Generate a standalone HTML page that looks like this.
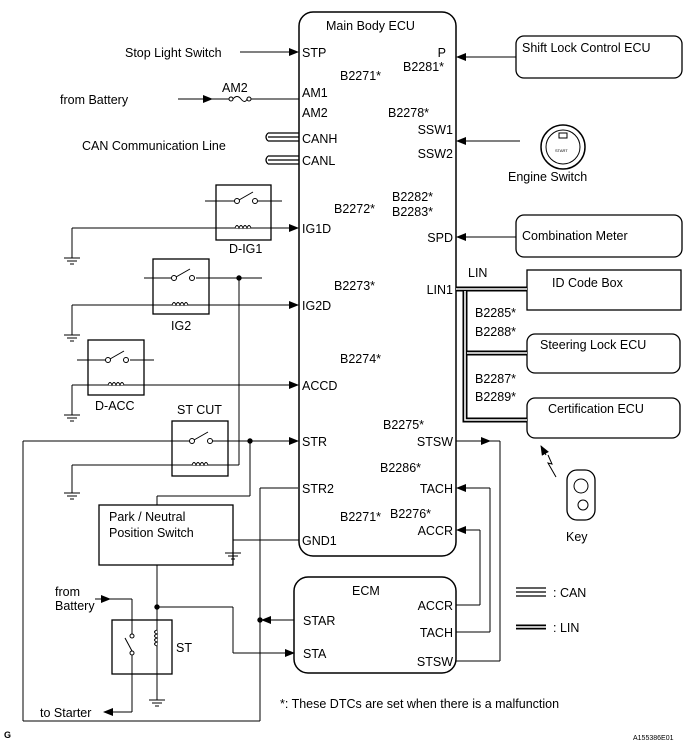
<!DOCTYPE html>
<html><head><style>
html,body{margin:0;padding:0;background:#fff}
svg{display:block}
text{font-family:"Liberation Sans",Arial,sans-serif;font-size:12.5px;fill:#000}
</style></head><body>
<svg width="689" height="747" viewBox="0 0 689 747" xmlns="http://www.w3.org/2000/svg">
<defs>
<marker id="a" markerWidth="10" markerHeight="8" refX="9" refY="4" orient="auto" markerUnits="userSpaceOnUse"><path d="M0,0 L10,4 L0,8z" fill="#000"/></marker>
<g id="gnd"><line x1="-8" y1="0" x2="8" y2="0" stroke="#000"/><line x1="-5" y1="3" x2="5" y2="3" stroke="#000"/><line x1="-2" y1="6" x2="2" y2="6" stroke="#000"/></g>
<g id="coil"><path d="M-8,0 q2,-5 4,0 q2,-5 4,0 q2,-5 4,0 q2,-5 4,0" fill="#fff" stroke="#000"/></g>
<g id="sw"><circle cx="-8" cy="0" r="2.5" fill="#fff" stroke="#000"/><circle cx="10" cy="0" r="2.5" fill="#fff" stroke="#000"/><line x1="-6" y1="-1" x2="8" y2="-9" stroke="#000"/></g>
</defs>
<g fill="none" stroke="#000" stroke-width="1">
<rect x="299" y="12" width="157" height="544" rx="14" stroke-width="1.5"/>
<rect x="294" y="577" width="162" height="96" rx="14" stroke-width="1.5"/>
<rect x="516" y="36" width="166" height="42" rx="8" stroke-width="1.3"/>
<rect x="516" y="215" width="166" height="42" rx="8" stroke-width="1.3"/>
<rect x="527" y="270" width="154" height="40" stroke-width="1.3"/>
<rect x="527" y="334" width="153" height="39" rx="8" stroke-width="1.3"/>
<rect x="527" y="398" width="153" height="40" rx="8" stroke-width="1.3"/>
<line x1="516" y1="57" x2="457" y2="57" marker-end="url(#a)"/>
<line x1="516" y1="237" x2="457" y2="237" marker-end="url(#a)"/>
<line x1="520" y1="141" x2="457" y2="141" marker-end="url(#a)"/>
<circle cx="563" cy="147" r="22" stroke-width="1.5"/>
<circle cx="563" cy="147" r="17"/>
<rect x="559" y="133" width="8" height="5"/>
<line x1="240" y1="52" x2="298" y2="52" marker-end="url(#a)"/>
<line x1="178" y1="99" x2="212" y2="99" marker-end="url(#a)"/>
<line x1="212" y1="99" x2="229" y2="99"/>
<circle cx="231" cy="99" r="2" fill="#fff"/><circle cx="249" cy="99" r="2" fill="#fff"/>
<path d="M233,99 q4,-5 8,0 q4,5 6,0"/>
<line x1="251" y1="99" x2="299" y2="99"/>
<g stroke-width="1.2"><line x1="268" y1="133" x2="299" y2="133"/><line x1="268" y1="137" x2="299" y2="137"/><line x1="268" y1="141" x2="299" y2="141"/>
<line x1="268" y1="156" x2="299" y2="156"/><line x1="268" y1="160" x2="299" y2="160"/><line x1="268" y1="164" x2="299" y2="164"/>
<path d="M268,133 q-4,4 0,8"/><path d="M268,156 q-4,4 0,8"/></g>
<rect x="216" y="185" width="55" height="55" stroke-width="1.3"/>
<line x1="205" y1="201" x2="236" y2="201"/><line x1="258" y1="201" x2="282" y2="201"/>
<use href="#sw" x="245" y="201"/>
<line x1="72" y1="228" x2="298" y2="228" marker-end="url(#a)"/>
<use href="#coil" x="243" y="228"/>
<line x1="72" y1="228" x2="72" y2="258"/><use href="#gnd" x="72" y="258"/>
<rect x="153" y="259" width="56" height="55" stroke-width="1.3"/>
<line x1="144" y1="278" x2="174" y2="278"/><line x1="196" y1="278" x2="262" y2="278"/>
<use href="#sw" x="182" y="278"/>
<circle cx="239" cy="278" r="2.2" fill="#000"/>
<line x1="72" y1="305" x2="298" y2="305" marker-end="url(#a)"/>
<use href="#coil" x="180" y="305"/>
<line x1="72" y1="305" x2="72" y2="335"/><use href="#gnd" x="72" y="335"/>
<rect x="88" y="340" width="56" height="55" stroke-width="1.3"/>
<line x1="77" y1="360" x2="108" y2="360"/><line x1="130" y1="360" x2="154" y2="360"/>
<use href="#sw" x="116" y="360"/>
<line x1="72" y1="385" x2="298" y2="385" marker-end="url(#a)"/>
<use href="#coil" x="116" y="385"/>
<line x1="72" y1="385" x2="72" y2="415"/><use href="#gnd" x="72" y="415"/>
<rect x="172" y="421" width="56" height="55" stroke-width="1.3"/>
<line x1="23" y1="441" x2="192" y2="441"/><line x1="211" y1="441" x2="298" y2="441" marker-end="url(#a)"/>
<use href="#sw" x="200" y="441"/>
<circle cx="250" cy="441" r="2.2" fill="#000"/>
<line x1="72" y1="465" x2="239" y2="465"/><line x1="239" y1="465" x2="239" y2="278"/>
<use href="#coil" x="200" y="465"/>
<line x1="72" y1="465" x2="72" y2="493"/><use href="#gnd" x="72" y="493"/>
<line x1="23" y1="441" x2="23" y2="721"/><line x1="23" y1="721" x2="260" y2="721"/>
<line x1="260" y1="721" x2="260" y2="488"/><line x1="260" y1="488" x2="298" y2="488"/>
<rect x="99" y="505" width="134" height="60" stroke-width="1.3"/>
<line x1="157" y1="505" x2="157" y2="496"/><line x1="157" y1="496" x2="250" y2="496"/><line x1="250" y1="496" x2="250" y2="441"/>
<line x1="157" y1="565" x2="157" y2="700"/><use href="#gnd" x="157" y="700"/>
<circle cx="157" cy="607" r="2.2" fill="#000"/>
<line x1="157" y1="607" x2="233" y2="607"/><line x1="233" y1="607" x2="233" y2="653"/><line x1="233" y1="653" x2="294" y2="653" marker-end="url(#a)"/>
<line x1="299" y1="540" x2="233" y2="540"/><line x1="233" y1="540" x2="233" y2="553"/><use href="#gnd" x="233" y="553"/>
<line x1="294" y1="620" x2="262" y2="620" marker-end="url(#a)"/><circle cx="260" cy="620" r="2.2" fill="#000"/>
<rect x="112" y="620" width="60" height="54" stroke-width="1.3"/>
<line x1="95" y1="599" x2="110" y2="599" marker-end="url(#a)"/>
<line x1="108" y1="599" x2="132" y2="599"/>
<line x1="132" y1="599" x2="132" y2="635"/>
<circle cx="132" cy="636" r="2" fill="#fff"/><circle cx="132" cy="653" r="2" fill="#fff"/>
<line x1="132" y1="651" x2="125" y2="638"/>
<line x1="132" y1="655" x2="132" y2="712"/><line x1="132" y1="712" x2="104" y2="712" marker-end="url(#a)"/>
<path d="M157,630 q-5,2 0,4 q-5,2 0,4 q-5,2 0,4 q-5,2 0,4" fill="#fff"/>
<line x1="456" y1="605" x2="480" y2="605"/><line x1="480" y1="605" x2="480" y2="530"/><line x1="480" y1="530" x2="457" y2="530" marker-end="url(#a)"/>
<line x1="456" y1="632" x2="490" y2="632"/><line x1="490" y1="632" x2="490" y2="488"/><line x1="490" y1="488" x2="457" y2="488" marker-end="url(#a)"/>
<line x1="456" y1="661" x2="500" y2="661"/><line x1="500" y1="661" x2="500" y2="441"/><line x1="456" y1="441" x2="490" y2="441" marker-end="url(#a)"/><line x1="488" y1="441" x2="500" y2="441"/>
<g stroke-width="5"><path d="M456,289 H527"/><path d="M465,289 V420 H527"/><path d="M465,353 H527"/></g>
<g stroke="#fff" stroke-width="1.6"><path d="M456,289 H527"/><path d="M465,291 V420 H527"/><path d="M467,353 H527"/></g>
<path d="M556,477 l-8,-14 l4,1 l-4,-9 " />
<line x1="546" y1="455" x2="541" y2="446" marker-end="url(#a)"/>
<rect x="567" y="470" width="28" height="50" rx="10" stroke-width="1.3"/>
<circle cx="581" cy="486" r="7"/><circle cx="583" cy="505" r="5"/>
<g stroke-width="1.2"><line x1="516" y1="588" x2="546" y2="588"/><line x1="516" y1="592" x2="546" y2="592"/><line x1="516" y1="596" x2="546" y2="596"/></g>
<line x1="516" y1="627" x2="546" y2="627" stroke-width="5"/><line x1="516" y1="627" x2="546" y2="627" stroke="#fff" stroke-width="1.6"/>
</g>
<g>
<text x="326" y="30">Main Body ECU</text>
<text x="125" y="57">Stop Light Switch</text>
<text x="60" y="104">from Battery</text>
<text x="222" y="92">AM2</text>
<text x="82" y="150">CAN Communication Line</text>
<text x="302" y="57">STP</text><text x="302" y="97">AM1</text><text x="302" y="117">AM2</text>
<text x="302" y="143">CANH</text><text x="302" y="165">CANL</text>
<text x="302" y="233">IG1D</text><text x="302" y="310">IG2D</text><text x="302" y="390">ACCD</text>
<text x="302" y="446">STR</text><text x="302" y="493">STR2</text><text x="302" y="545">GND1</text>
<text x="340" y="80">B2271*</text><text x="334" y="213">B2272*</text><text x="334" y="290">B2273*</text>
<text x="340" y="363">B2274*</text><text x="340" y="521">B2271*</text>
<text x="446" y="57" text-anchor="end">P</text><text x="403" y="71">B2281*</text>
<text x="388" y="117">B2278*</text><text x="453" y="134" text-anchor="end">SSW1</text><text x="453" y="158" text-anchor="end">SSW2</text>
<text x="392" y="201">B2282*</text><text x="392" y="216">B2283*</text>
<text x="453" y="242" text-anchor="end">SPD</text><text x="453" y="294" text-anchor="end">LIN1</text>
<text x="383" y="429">B2275*</text><text x="453" y="446" text-anchor="end">STSW</text>
<text x="380" y="472">B2286*</text><text x="453" y="493" text-anchor="end">TACH</text>
<text x="390" y="518">B2276*</text><text x="453" y="535" text-anchor="end">ACCR</text>
<text x="352" y="595">ECM</text>
<text x="303" y="625">STAR</text><text x="303" y="658">STA</text>
<text x="453" y="610" text-anchor="end">ACCR</text><text x="453" y="637" text-anchor="end">TACH</text><text x="453" y="666" text-anchor="end">STSW</text>
<text x="522" y="52">Shift Lock Control ECU</text>
<text x="508" y="181">Engine Switch</text>
<text x="522" y="240">Combination Meter</text>
<text x="468" y="277">LIN</text>
<text x="552" y="287">ID Code Box</text>
<text x="475" y="317">B2285*</text><text x="475" y="336">B2288*</text>
<text x="540" y="349">Steering Lock ECU</text>
<text x="475" y="383">B2287*</text><text x="475" y="401">B2289*</text>
<text x="548" y="413">Certification ECU</text>
<text x="566" y="541">Key</text>
<text x="229" y="253">D-IG1</text><text x="171" y="330">IG2</text><text x="95" y="410">D-ACC</text><text x="177" y="414">ST CUT</text>
<text x="109" y="521">Park / Neutral</text><text x="109" y="537">Position Switch</text>
<text x="55" y="596">from</text><text x="55" y="610">Battery</text>
<text x="176" y="652">ST</text>
<text x="40" y="717">to Starter</text>
<text x="553" y="597">: CAN</text><text x="553" y="632">: LIN</text>
<text x="280" y="708">*: These DTCs are set when there is a malfunction</text>
<text x="4" y="738" style="font-size:9px;font-weight:bold">G</text>
<text x="633" y="740" style="font-size:7px">A155386E01</text>
<text x="555" y="152" style="font-size:4px">START</text>
</g>
</svg>
</body></html>
